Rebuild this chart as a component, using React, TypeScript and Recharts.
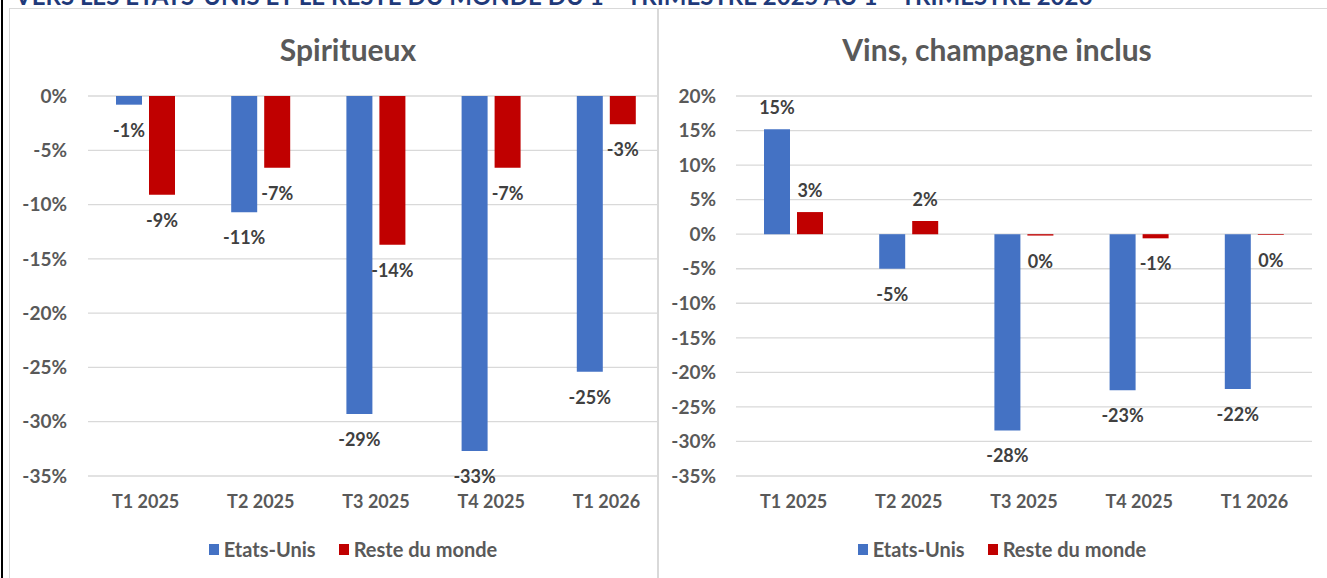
import { BarChart, Bar, XAxis, YAxis, CartesianGrid, Legend, LabelList } from 'recharts';

const categories = ['T1 2025', 'T2 2025', 'T3 2025', 'T4 2025', 'T1 2026'];
const spiritsUS = [-0.8, -10.7, -29.3, -32.7, -25.4];
const spiritsRoW = [-9.1, -6.6, -13.7, -6.6, -2.6];
const winesUS = [15.2, -5.0, -28.4, -22.6, -22.4];
const winesRoW = [3.2, 1.9, -0.2, -0.6, -0.1];
const spiritsTicks = [0, -5, -10, -15, -20, -25, -30, -35];
const winesTicks = [20, 15, 10, 5, 0, -5, -10, -15, -20, -25, -30, -35];

const FONT = 'Lato, "Open Sans", sans-serif';
const BLUE = '#4472C4';
const RED = '#C00000';
const GREY = '#595959';

const build = (us: number[], row: number[]) =>
  categories.map((c, i) => ({ cat: c, us: us[i], row: row[i] }));

const pct = (v: number) => `${Math.round(v)}%`;

const renderLabel = (props: any) => {
  const { x, y, width, height, value } = props;
  const v = Number(value);
  const end = v < 0 ? Math.max(y, y + height) : Math.min(y, y + height);
  const cy = v < 0 ? end + 25 : end - 22;
  return (
    <text
      x={x + width / 2}
      y={cy}
      textAnchor="middle"
      dominantBaseline="central"
      fill="#404040"
      fontFamily={FONT}
      fontWeight={700}
      fontSize={18}
    >
      {pct(v)}
    </text>
  );
};

const renderLegend = () => (
  <div style={{ display: 'flex', justifyContent: 'center', alignItems: 'center', fontFamily: FONT, fontWeight: 700, fontSize: 20, color: GREY }}>
    <span style={{ width: 10, height: 11, background: BLUE, marginRight: 5 }} />
    <span style={{ marginRight: 23 }}>Etats-Unis</span>
    <span style={{ width: 10, height: 11, background: RED, marginRight: 5 }} />
    <span>Reste du monde</span>
  </div>
);

interface PanelProps {
  title: string;
  data: { cat: string; us: number; row: number }[];
  ticks: number[];
  yWidth: number;
}

function Panel({ title, data, ticks, yWidth }: PanelProps) {
  return (
    <>
      <div
        style={{
          position: 'absolute', left: 0, top: 22, width: 676, textAlign: 'center',
          fontFamily: FONT, fontWeight: 700, fontSize: 30, color: GREY,
        }}
      >
        {title}
      </div>
      <BarChart
        width={680}
        height={570}
        data={data}
        margin={{ top: 87, right: 26 + (78 - yWidth), bottom: 63, left: 0 }}
        barSize={26}
        barGap={7}
        style={{ position: 'absolute', left: 0, top: 0 }}
      >
        <CartesianGrid vertical={false} stroke="#D9D9D9" strokeWidth={1.3} />
        <XAxis
          dataKey="cat"
          height={40}
          axisLine={false}
          tickLine={false}
          tickMargin={13}
          tick={{ fill: GREY, fontFamily: FONT, fontWeight: 700, fontSize: 18 }}
        />
        <YAxis
          width={yWidth}
          domain={[ticks[ticks.length - 1], ticks[0]]}
          ticks={ticks}
          interval={0}
          tickFormatter={(v: number) => `${v}%`}
          axisLine={false}
          tickLine={false}
          tickMargin={yWidth - 63}
          tick={{ fill: GREY, fontFamily: FONT, fontWeight: 700, fontSize: 19 }}
        />
        <Legend
          layout="horizontal"
          verticalAlign="middle"
          align="center"
          content={renderLegend}
          wrapperStyle={{ left: 0, top: 528, width: 686 }}
        />
        <Bar dataKey="us" name="Etats-Unis" fill={BLUE} isAnimationActive={false}>
          <LabelList dataKey="us" content={renderLabel} />
        </Bar>
        <Bar dataKey="row" name="Reste du monde" fill={RED} isAnimationActive={false}>
          <LabelList dataKey="row" content={renderLabel} />
        </Bar>
      </BarChart>
    </>
  );
}

export default function App() {
  return (
    <div style={{ position: 'fixed', left: 0, top: 0, width: 1327, height: 578, overflow: 'hidden', background: '#fff' }}>
      <div
        style={{
          position: 'absolute', left: 15, top: -19, whiteSpace: 'nowrap', lineHeight: 'normal',
          fontFamily: FONT, fontWeight: 700, fontSize: 24, color: '#1F3A7A',
        }}
      >
        VERS LES ETATS-UNIS ET LE RESTE DU MONDE DU 1<sup style={{ lineHeight: 0 }}>er</sup> TRIMESTRE 2025 AU 1<sup style={{ lineHeight: 0 }}>er</sup> TRIMESTRE 2026
      </div>
      <div style={{ position: 'absolute', left: 1, top: 0, width: 2, height: 578, background: '#000' }} />
      <div
        style={{
          position: 'absolute', left: 9, top: 8, width: 647, height: 580,
          border: '1px solid #D9D9D9', overflow: 'hidden', background: '#fff',
        }}
      >
        <Panel title="Spiritueux" data={build(spiritsUS, spiritsRoW)} ticks={spiritsTicks} yWidth={78} />
      </div>
      <div
        style={{
          position: 'absolute', left: 658, top: 8, width: 700, height: 580,
          border: '1px solid #D9D9D9', overflow: 'hidden', background: '#fff',
        }}
      >
        <Panel title="Vins, champagne inclus" data={build(winesUS, winesRoW)} ticks={winesTicks} yWidth={77} />
      </div>
    </div>
  );
}
